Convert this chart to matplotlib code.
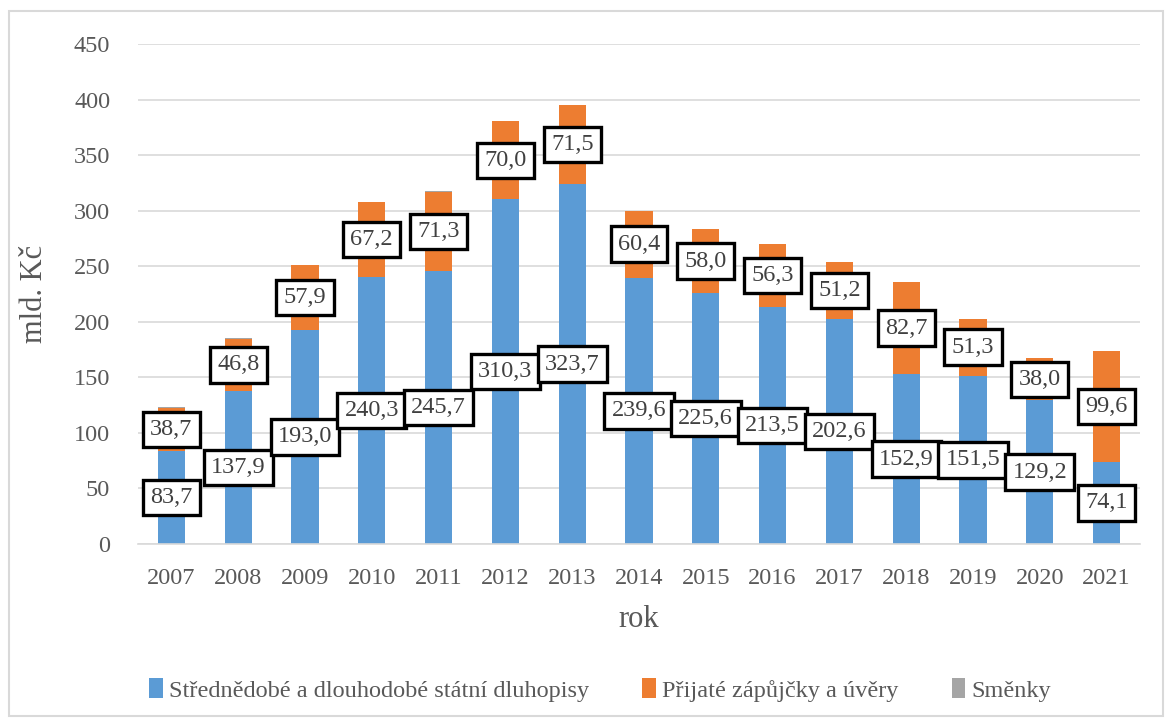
import matplotlib
matplotlib.use("Agg")
import matplotlib.pyplot as plt
from matplotlib.patches import Rectangle

years = ["2007", "2008", "2009", "2010", "2011", "2012", "2013", "2014",
         "2015", "2016", "2017", "2018", "2019", "2020", "2021"]
dluhopisy = [83.7, 137.9, 193.0, 240.3, 245.7, 310.3, 323.7, 239.6,
             225.6, 213.5, 202.6, 152.9, 151.5, 129.2, 74.1]
uvery = [38.7, 46.8, 57.9, 67.2, 71.3, 70.0, 71.5, 60.4,
         58.0, 56.3, 51.2, 82.7, 51.3, 38.0, 99.6]
smenky = [0.6, 0.6, 0.6, 0.6, 0.8, 0.0, 0.0, 0.0,
          0.0, 0.0, 0.0, 0.0, 0.0, 0.0, 0.0]

names = ["Střednědobé a dlouhodobé státní dluhopisy",
         "Přijaté zápůjčky a úvěry", "Směnky"]
colors = ["#5b9bd5", "#ed7d31", "#a5a5a5"]

def fmt(v):
    return f"{v:.1f}".replace(".", ",")

plt.rcParams['font.family'] = ['Liberation Serif', 'DejaVu Serif']
W, H = 1171, 722
fig = plt.figure(figsize=(W / 100, H / 100), dpi=100)
ax = fig.add_axes([138 / W, 1 - 544 / H, (1140 - 138) / W, 500 / H])

x = list(range(len(years)))
bw = 0.41
ax.bar(x, dluhopisy, bw, color=colors[0], label=names[0], zorder=2)
ax.bar(x, uvery, bw, bottom=dluhopisy, color=colors[1], label=names[1], zorder=2)
bot2 = [a + b for a, b in zip(dluhopisy, uvery)]
ax.bar(x, smenky, bw, bottom=bot2, color=colors[2], label=names[2], zorder=2)

box = dict(boxstyle="square,pad=0.3", fc="white", ec="black", lw=2.4)
for i in x:
    ax.text(i, dluhopisy[i] / 2, fmt(dluhopisy[i]), ha="center", va="center",
            fontsize=17.5, color="#404040", bbox=box, zorder=5)
    ax.text(i, dluhopisy[i] + uvery[i] / 2, fmt(uvery[i]), ha="center", va="center",
            fontsize=17.5, color="#404040", bbox=box, zorder=5)

ax.set_xlim(-0.5, len(years) - 0.5)
ax.set_ylim(0, 450)
ax.set_yticks(range(0, 451, 50))
ax.set_xticks(x)
ax.set_xticklabels(years)
ax.grid(axis="y", color="#d9d9d9", lw=1.2, zorder=0)
for s in ["top", "right", "left"]:
    ax.spines[s].set_visible(False)
ax.spines["bottom"].set_color("#d9d9d9")
ax.spines["bottom"].set_linewidth(1.2)
ax.tick_params(axis="both", length=0, labelsize=17.5, colors="#595959")
ax.tick_params(axis="y", pad=20)
ax.tick_params(axis="x", pad=17)
ax.set_ylabel("mld. Kč", fontsize=22, color="#595959", labelpad=18)
ax.set_xlabel("rok", fontsize=22, color="#595959", labelpad=12)

leg = fig.legend(loc="center", bbox_to_anchor=(600 / W, 1 - 690 / H), ncol=3,
                 frameon=False, fontsize=17.5, handlelength=0.55, handleheight=0.9,
                 handletextpad=0.25, columnspacing=2.2, labelcolor="#595959")

fig.patches.append(Rectangle((9 / W, 1 - 716 / H), (1163 - 9) / W, (716 - 11) / H,
                             transform=fig.transFigure, fill=False,
                             ec="#d9d9d9", lw=1.5))
fig.savefig("out.png", dpi=100, facecolor="white")
